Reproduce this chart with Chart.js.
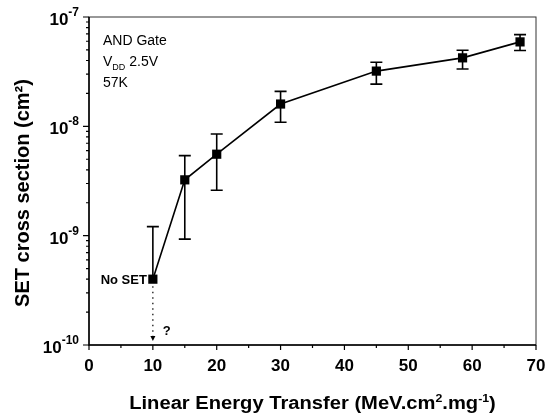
<!DOCTYPE html>
<html>
<head>
<meta charset="utf-8">
<script src="https://cdn.jsdelivr.net/npm/chart.js@4"></script>
<style>
  html, body { margin: 0; padding: 0; background: #fff; }
  #wrap { width: 546px; height: 420px; }
</style>
</head>
<body>
<div id="wrap"><canvas id="grafico-set" width="546" height="420"></canvas></div>
<script>
// datos
const let_x = [10, 15, 20, 30, 45, 58.5, 67.5];
const sigma = [4.0e-10, 3.24e-9, 5.56e-9, 1.60e-8, 3.2e-8, 4.23e-8, 5.92e-8];
const errAlto = [1.21e-9, 5.4e-9, 8.5e-9, 2.09e-8, 3.86e-8, 4.97e-8, 6.9e-8];
const errBajo = [null, 9.3e-10, 2.6e-9, 1.09e-8, 2.43e-8, 3.35e-8, 4.94e-8];
const ticksX = [0, 10, 20, 30, 40, 50, 60, 70];
const ticksXMenores = [5, 15, 25, 35, 45, 55, 65];
const expY = [-10, -9, -8, -7];
const notas = ["AND Gate", "57K"];

const FUENTE = "'Liberation Sans', Arial, sans-serif";

// Plugin para ejes, barras de error y textos
const pluginFigura = {
  id: 'figura',
  beforeDatasetsDraw(chart) {
    const ctx = chart.ctx;
    const sx = chart.scales.x, sy = chart.scales.y;
    ctx.save();
    ctx.strokeStyle = '#000';
    ctx.lineWidth = 1.6;
    let_x.forEach((x, i) => {
      const px = sx.getPixelForValue(x);
      const yTop = sy.getPixelForValue(errAlto[i]);
      const yBot = errBajo[i] ? sy.getPixelForValue(errBajo[i]) : sy.getPixelForValue(sigma[i]);
      ctx.beginPath();
      ctx.moveTo(px, yTop); ctx.lineTo(px, yBot);
      ctx.moveTo(px - 6, yTop); ctx.lineTo(px + 6, yTop);
      if (errBajo[i]) { ctx.moveTo(px - 6, yBot); ctx.lineTo(px + 6, yBot); }
      ctx.stroke();
    });

    // flecha punteada bajo "No SET"
    const px0 = sx.getPixelForValue(let_x[0]);
    const py0 = sy.getPixelForValue(sigma[0]);
    const pyFin = chart.chartArea.bottom - 5;
    ctx.lineWidth = 1.2;
    ctx.setLineDash([1.5, 4]);
    ctx.beginPath();
    ctx.moveTo(px0, py0 + 7); ctx.lineTo(px0, pyFin - 3);
    ctx.stroke();
    ctx.setLineDash([]);
    ctx.fillStyle = '#000';
    ctx.beginPath();
    ctx.moveTo(px0 - 2.5, pyFin - 4); ctx.lineTo(px0 + 2.5, pyFin - 4); ctx.lineTo(px0, pyFin + 1);
    ctx.closePath(); ctx.fill();
    ctx.restore();
  },
  afterDraw(chart) {
    const ctx = chart.ctx;
    const a = chart.chartArea;
    const sx = chart.scales.x, sy = chart.scales.y;
    ctx.save();
    ctx.fillStyle = '#000';
    ctx.strokeStyle = '#000';

    // marco
    ctx.lineWidth = 1;
    ctx.strokeStyle = '#333';
    ctx.strokeRect(a.left, a.top, a.right - a.left, a.bottom - a.top);
    ctx.strokeStyle = '#000';
    ctx.lineWidth = 1.5;
    ctx.beginPath();
    ctx.moveTo(a.left, a.top); ctx.lineTo(a.left, a.bottom); ctx.lineTo(a.right, a.bottom);
    ctx.stroke();

    // ticks eje x
    ctx.lineWidth = 1.2;
    ctx.beginPath();
    ticksX.forEach(v => { const p = sx.getPixelForValue(v); ctx.moveTo(p, a.bottom); ctx.lineTo(p, a.bottom + 5); });
    ticksXMenores.forEach(v => { const p = sx.getPixelForValue(v); ctx.moveTo(p, a.bottom); ctx.lineTo(p, a.bottom + 3); });
    // ticks eje y
    expY.forEach(e => {
      const p = sy.getPixelForValue(Math.pow(10, e));
      ctx.moveTo(a.left, p); ctx.lineTo(a.left - 6, p);
      if (e < expY[expY.length - 1]) {
        for (let m = 2; m <= 9; m++) {
          const q = sy.getPixelForValue(m * Math.pow(10, e));
          ctx.moveTo(a.left, q); ctx.lineTo(a.left - 3, q);
        }
      }
    });
    ctx.stroke();

    // etiquetas x
    ctx.font = `bold 17px ${FUENTE}`;
    ctx.textAlign = 'center';
    ctx.textBaseline = 'alphabetic';
    ticksX.forEach(v => ctx.fillText(String(v), sx.getPixelForValue(v), a.bottom + 26));

    // etiquetas y con exponente
    expY.forEach(e => {
      const p = sy.getPixelForValue(Math.pow(10, e));
      const exp = String(e);
      ctx.font = `bold 12px ${FUENTE}`;
      const wExp = ctx.measureText(exp).width;
      ctx.textAlign = 'left';
      const xFin = a.left - 10;
      ctx.fillText(exp, xFin - wExp, p - 1);
      ctx.font = `bold 17px ${FUENTE}`;
      ctx.textAlign = 'right';
      ctx.fillText('10', xFin - wExp, p + 8);
    });

    // titulo eje x con superindices (algo ensanchado como en la figura)
    const partes = [
      { t: 'Linear Energy Transfer (MeV.cm', sup: false },
      { t: '2', sup: true },
      { t: '.mg', sup: false },
      { t: '-1', sup: true },
      { t: ')', sup: false }
    ];
    const estirar = 1.12;
    let ancho = 0;
    partes.forEach(p => {
      ctx.font = p.sup ? `bold 11px ${FUENTE}` : `bold 18px ${FUENTE}`;
      p.w = ctx.measureText(p.t).width;
      ancho += p.w;
    });
    ctx.save();
    const centroX = (a.left + a.right) / 2;
    ctx.translate(centroX - ancho * estirar / 2, 0);
    ctx.scale(estirar, 1);
    let cx = 0;
    ctx.textAlign = 'left';
    partes.forEach(p => {
      ctx.font = p.sup ? `bold 11px ${FUENTE}` : `bold 18px ${FUENTE}`;
      ctx.fillText(p.t, cx, p.sup ? 402 : 409);
      cx += p.w;
    });
    ctx.restore();

    // titulo eje y
    ctx.save();
    ctx.translate(29, 193);
    ctx.rotate(-Math.PI / 2);
    ctx.font = `bold 20px ${FUENTE}`;
    ctx.textAlign = 'center';
    ctx.fillText('SET cross section (cm\u00B2)', 0, 0);
    ctx.restore();

    // notas
    ctx.font = `14px ${FUENTE}`;
    ctx.textAlign = 'left';
    ctx.fillText(notas[0], 103, 45);
    ctx.fillText('V', 103, 66);
    const wV = ctx.measureText('V').width;
    ctx.font = `9px ${FUENTE}`;
    ctx.fillText('DD', 103 + wV, 70);
    const wDD = ctx.measureText('DD').width;
    ctx.font = `14px ${FUENTE}`;
    ctx.fillText(' 2.5V', 103 + wV + wDD, 66);
    ctx.fillText(notas[1], 103, 87);

    // No SET y ?
    const px0 = sx.getPixelForValue(let_x[0]);
    const py0 = sy.getPixelForValue(sigma[0]);
    ctx.font = `bold 13px ${FUENTE}`;
    ctx.textAlign = 'right';
    ctx.fillText('No SET', px0 - 6, py0 + 5);
    ctx.textAlign = 'left';
    ctx.fillText('?', px0 + 10, py0 + 56);
    ctx.restore();
  }
};

const ctx = document.getElementById('grafico-set').getContext('2d');
new Chart(ctx, {
  type: 'line',
  data: {
    datasets: [{
      data: let_x.map((x, i) => ({ x: x, y: sigma[i] })),
      borderColor: '#000',
      backgroundColor: '#000',
      borderWidth: 1.6,
      pointStyle: 'rect',
      pointRadius: 6.5,
      pointBorderWidth: 0,
      tension: 0
    }]
  },
  options: {
    responsive: false,
    animation: false,
    layout: { padding: { top: 17, right: 10, left: 0, bottom: 0 } },
    plugins: { legend: { display: false }, tooltip: { enabled: false } },
    scales: {
      x: {
        type: 'linear', min: 0, max: 70,
        ticks: { display: false },
        grid: { display: false },
        border: { display: false },
        afterFit: s => { s.height = 75; }
      },
      y: {
        type: 'logarithmic', min: 1e-10, max: 1e-7,
        ticks: { display: false },
        grid: { display: false },
        border: { display: false },
        afterFit: s => { s.width = 89; }
      }
    }
  },
  plugins: [pluginFigura]
});
</script>
</body>
</html>
